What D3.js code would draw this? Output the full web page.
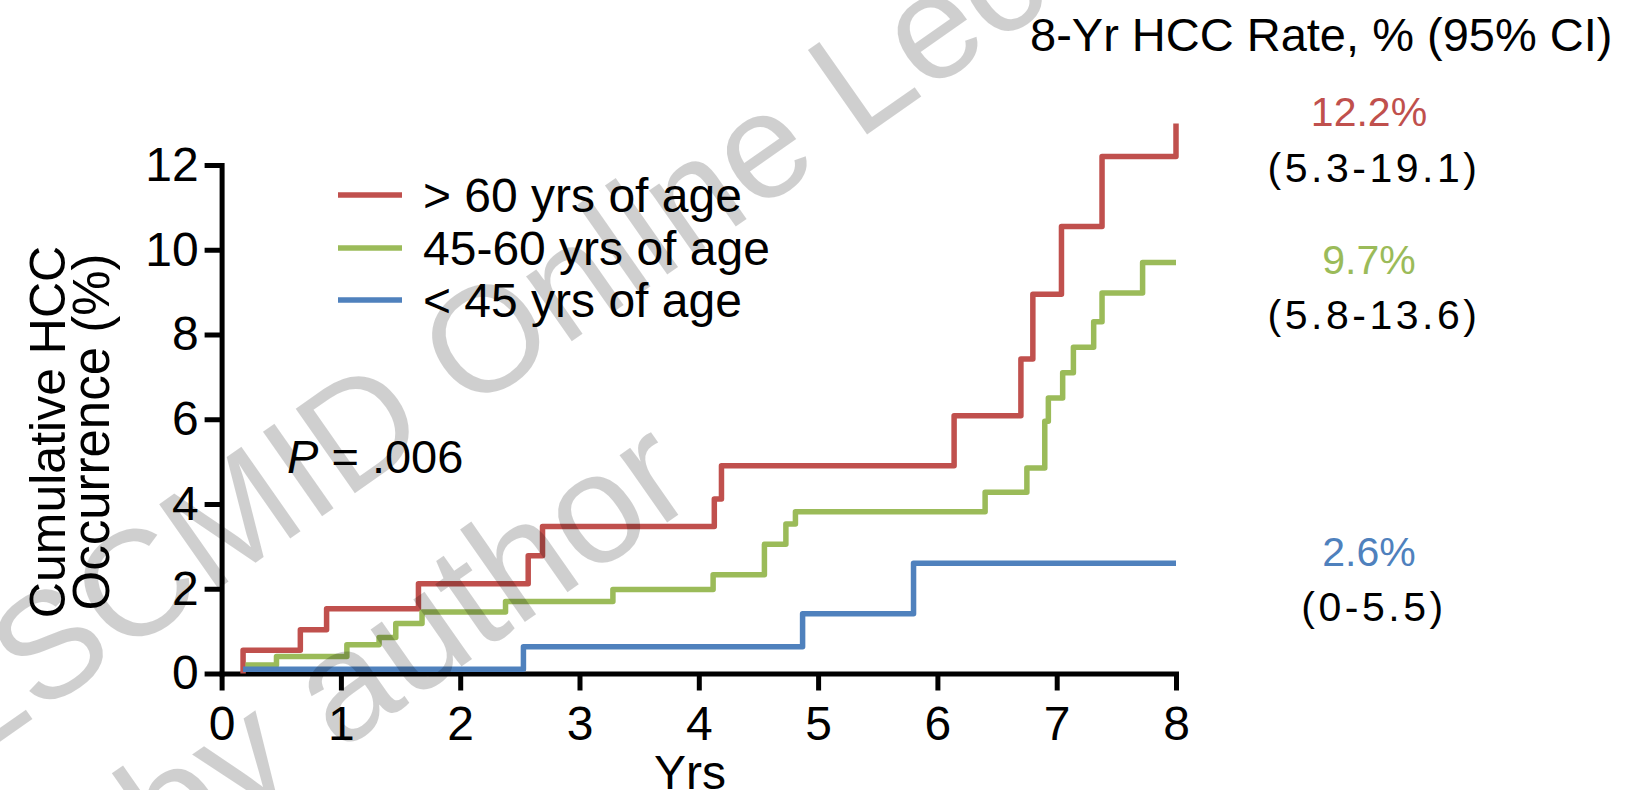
<!DOCTYPE html>
<html>
<head>
<meta charset="utf-8">
<script src="https://cdn.jsdelivr.net/npm/d3@7"></script>
<style>
  html, body { margin: 0; padding: 0; background: #fff; }
  svg { display: block; }
  text { font-family: "Liberation Sans", Arial, sans-serif; }
</style>
</head>
<body>
<svg id="chart" width="1639" height="790"></svg>
<script>
// Cumulative HCC occurrence by age group (Kaplan-Meier style step curves)
const groups = ["> 60 yrs of age", "45-60 yrs of age", "< 45 yrs of age"];
const colors = ["#C0504D", "#9BBB59", "#4F81BD"];

// event times (years) and cumulative occurrence (%) after each event
const over60Times  = [0.18, 0.18, 0.66, 0.88, 1.65, 2.57, 2.69, 4.13, 4.19, 6.14, 6.70, 6.80, 7.04, 7.38, 8.0];
const over60Values = [0.0, 0.55, 1.03, 1.53, 2.12, 2.78, 3.47, 4.12, 4.90, 6.08, 7.42, 8.95, 10.55, 12.2, 12.98];

const mid45Times  = [0.2, 0.46, 1.05, 1.32, 1.46, 1.68, 2.38, 3.28, 4.12, 4.55, 4.73, 4.81, 6.40, 6.75, 6.90, 6.93, 7.05, 7.14, 7.31, 7.38, 7.72, 8.0];
const mid45Values = [0.2, 0.4, 0.68, 0.85, 1.18, 1.45, 1.7, 1.98, 2.33, 3.05, 3.53, 3.82, 4.28, 4.85, 5.95, 6.5, 7.1, 7.7, 8.3, 8.98, 9.7, 9.7];

const under45Times  = [0.18, 2.53, 4.87, 5.80, 8.0];
const under45Values = [0.1, 0.63, 1.41, 2.6, 2.6];

const rateLabels = ["12.2%", "9.7%", "2.6%"];
const ciLabels = ["(5.3-19.1)", "(5.8-13.6)", "(0-5.5)"];

const xTicks = [0, 1, 2, 3, 4, 5, 6, 7, 8];
const yTicks = [0, 2, 4, 6, 8, 10, 12];

const series = [
  { times: over60Times, values: over60Values },
  { times: mid45Times, values: mid45Values },
  { times: under45Times, values: under45Values }
];

const svg = d3.select("#chart");
const x = d3.scaleLinear().domain([0, 8]).range([221.6, 1176]);
const y = d3.scaleLinear().domain([0, 12]).range([673.5, 165]);

// axes
const yAxis = svg.append("g")
  .attr("transform", `translate(${x(0)},0)`)
  .call(d3.axisLeft(y).tickValues(yTicks).tickSize(17).tickSizeOuter(0).tickPadding(6));
const xAxis = svg.append("g")
  .attr("transform", `translate(0,${y(0)})`)
  .call(d3.axisBottom(x).tickValues(xTicks).tickSize(17).tickSizeOuter(0).tickPadding(15));

[yAxis, xAxis].forEach(g => {
  g.select(".domain").attr("stroke", "#000").attr("stroke-width", 5).attr("stroke-linecap", "square");
  g.selectAll(".tick line").attr("stroke", "#000").attr("stroke-width", 5);
  g.selectAll(".tick text")
    .attr("fill", "#000")
    .style("font-family", "'Liberation Sans', Arial, sans-serif")
    .style("font-size", "48px");
});

// step curves
const line = d3.line()
  .x(d => x(d[0]))
  .y(d => y(d[1]))
  .curve(d3.curveStepAfter);

series.forEach((s, i) => {
  svg.append("path")
    .datum(s.times.map((t, k) => [t, s.values[k]]))
    .attr("fill", "none")
    .attr("stroke", colors[i])
    .attr("stroke-width", 5.5)
    .attr("stroke-linejoin", "round")
    .attr("d", line);
});

// legend
const legend = svg.append("g");
const legendY = [195, 248, 300];
groups.forEach((g, i) => {
  legend.append("line")
    .attr("x1", 338).attr("x2", 402)
    .attr("y1", legendY[i]).attr("y2", legendY[i])
    .attr("stroke", colors[i]).attr("stroke-width", 5.5);
  legend.append("text")
    .attr("x", 423).attr("y", legendY[i]).attr("dy", "0.36em")
    .style("font-size", "48px").text(g);
});

// p-value
const p = svg.append("text").attr("x", 287).attr("y", 473).style("font-size", "47px");
p.append("tspan").style("font-style", "italic").text("P");
p.append("tspan").text(" = .006");

// axis titles
svg.append("text")
  .attr("transform", "translate(65,432) rotate(-90)")
  .attr("text-anchor", "middle")
  .style("font-size", "50px")
  .text("Cumulative HCC");
svg.append("text")
  .attr("transform", "translate(109,432) rotate(-90)")
  .attr("text-anchor", "middle")
  .style("font-size", "51px")
  .text("Occurrence (%)");
svg.append("text")
  .attr("x", 690).attr("y", 789)
  .attr("text-anchor", "middle")
  .style("font-size", "48px")
  .text("Yrs");

// 8-year rate annotations
svg.append("text")
  .attr("x", 1030).attr("y", 51)
  .style("font-size", "47px")
  .text("8-Yr HCC Rate, % (95% CI)");

const rateY = [126, 274, 566];
const ciY = [182, 329, 621];
rateLabels.forEach((r, i) => {
  svg.append("text")
    .attr("x", 1369).attr("y", rateY[i])
    .attr("text-anchor", "middle")
    .attr("fill", colors[i])
    .style("font-size", "41px")
    .text(r);
  svg.append("text")
    .attr("x", 1374).attr("y", ciY[i])
    .attr("text-anchor", "middle")
    .style("font-size", "41px")
    .style("letter-spacing", "3.5px")
    .text(ciLabels[i]);
});

// watermark
const wm = svg.append("g").attr("fill", "#000").attr("fill-opacity", 0.19)
  .attr("pointer-events", "none");
wm.append("text")
  .attr("transform", "translate(-169,860) rotate(-35)")
  .style("font-size", "150px")
  .text("© ESCMID Online Lecture Library");
wm.append("text")
  .attr("transform", "translate(168,872) rotate(-35)")
  .style("font-size", "156px")
  .text("by author");
</script>
</body>
</html>
